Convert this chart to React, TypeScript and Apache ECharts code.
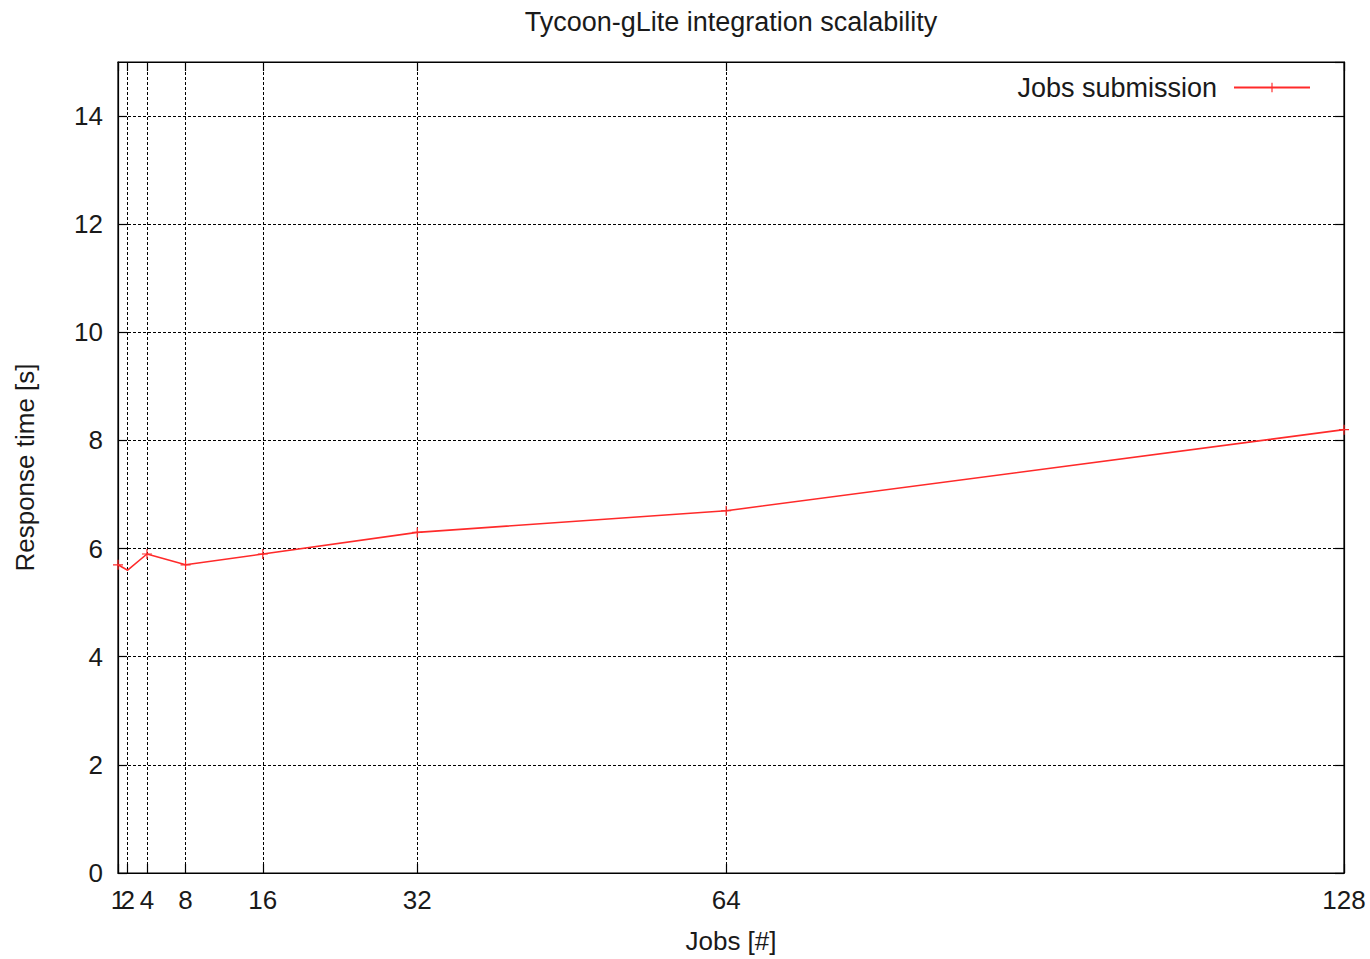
import React, { useEffect, useRef } from "react";
import * as echarts from "echarts";

const TITLE = "Tycoon-gLite integration scalability";
const X_NAME = "Jobs [#]";
const Y_NAME = "Response time [s]";
const SERIES_NAME = "Jobs submission";

const X_MIN = 1;
const X_MAX = 128;
const X_TICKS = [1, 2, 4, 8, 16, 32, 64, 128];
const X_TICKS_CROWDED = [2];
const JOBS = [1, 2, 4, 8, 16, 32, 64, 128];
const RESPONSE = [5.7, 5.6, 5.9, 5.7, 5.9, 6.3, 6.7, 8.2];

const Y_MIN = 0;
const Y_MAX = 15;
const Y_INTERVAL = 2;

const FONT = "'Liberation Sans', Arial, sans-serif";
const FS = 26;
const FS_BIG = 27;
const TEXT_COLOR = "#1a1a1a";
const RED = "#ff2a2a";

export default function App() {
  const ref = useRef<HTMLDivElement>(null);
  useEffect(() => {
    if (!ref.current) return;
    const chart = echarts.init(ref.current, null, { renderer: "svg" });
    const categories: string[] = [];
    for (let v = X_MIN; v <= X_MAX; v++) categories.push(String(v));
    const isTick = (idx: number) => X_TICKS.indexOf(idx + X_MIN) >= 0;
    const isCrowded = (idx: number) => X_TICKS_CROWDED.indexOf(idx + X_MIN) >= 0;
    const plus = "path://M4.4,0 h1.2 v4.4 h4.4 v1.2 h-4.4 v4.4 h-1.2 v-4.4 h-4.4 v-1.2 h4.4 z";
    const gridLine = { show: true, interval: (i: number) => isTick(i), lineStyle: { color: "#000", width: 1, type: [3, 2] as any } };
    const labelStyle = { fontFamily: FONT, fontSize: FS, color: TEXT_COLOR };
    chart.setOption({
      animation: false,
      backgroundColor: "#fff",
      textStyle: { fontFamily: FONT },
      title: {
        text: TITLE,
        left: 731,
        textAlign: "center",
        top: 8,
        padding: 0,
        textStyle: { fontFamily: FONT, fontSize: FS_BIG, fontWeight: "normal", color: TEXT_COLOR },
      },
      legend: {
        right: 54,
        top: 69,
        align: "right",
        itemWidth: 76,
        itemHeight: 12,
        itemGap: 10,
        textStyle: { fontFamily: FONT, fontSize: FS_BIG, color: TEXT_COLOR, padding: [0, 12, 0, 0] },
        data: [{ name: SERIES_NAME }],
      },
      grid: {
        left: 118,
        right: 26,
        top: 62,
        bottom: 86,
        show: true,
        borderColor: "#000",
        borderWidth: 1.2,
        backgroundColor: "transparent",
      },
      xAxis: [
        {
          type: "category",
          data: categories,
          boundaryGap: false,
          name: X_NAME,
          nameLocation: "middle",
          nameGap: 55,
          nameTextStyle: labelStyle,
          axisLine: { show: true, lineStyle: { color: "#000", width: 1.2 } },
          axisTick: { show: true, inside: true, length: 9, interval: (i: number) => isTick(i), lineStyle: { color: "#000", width: 1.2 } },
          axisLabel: {
            interval: (i: number) => isTick(i) && !isCrowded(i),
            showMinLabel: true,
            showMaxLabel: true,
            hideOverlap: false,
            margin: 14,
            ...labelStyle,
          },
          splitLine: gridLine,
        },
        {
          type: "category",
          data: categories,
          boundaryGap: false,
          position: "bottom",
          axisLine: { show: false },
          axisTick: { show: false },
          axisLabel: {
            interval: (i: number) => isCrowded(i),
            showMinLabel: false,
            showMaxLabel: false,
            margin: 14,
            ...labelStyle,
          },
          splitLine: { show: false },
        },
        {
          type: "category",
          data: categories,
          boundaryGap: false,
          position: "top",
          axisLine: { show: true, lineStyle: { color: "#000", width: 1.2 } },
          axisTick: { show: true, inside: true, length: 9, interval: (i: number) => isTick(i), lineStyle: { color: "#000", width: 1.2 } },
          axisLabel: { show: false },
          splitLine: { show: false },
        },
      ],
      yAxis: [
        {
          type: "value",
          min: Y_MIN,
          max: Y_MAX,
          interval: Y_INTERVAL,
          name: Y_NAME,
          nameLocation: "middle",
          nameGap: 80,
          nameTextStyle: labelStyle,
          axisLine: { show: true, lineStyle: { color: "#000", width: 1.2 } },
          axisTick: { show: true, inside: true, length: 9, lineStyle: { color: "#000", width: 1.2 } },
          axisLabel: { margin: 15, ...labelStyle, showMaxLabel: false },
          splitLine: { show: true, lineStyle: { color: "#000", width: 1, type: [3, 2] as any } },
        },
        {
          type: "value",
          min: Y_MIN,
          max: Y_MAX,
          interval: Y_INTERVAL,
          position: "right",
          axisLine: { show: true, lineStyle: { color: "#000", width: 1.2 } },
          axisTick: { show: true, inside: true, length: 9, lineStyle: { color: "#000", width: 1.2 } },
          axisLabel: { show: false },
          splitLine: { show: false },
        },
      ],
      series: [
        {
          name: SERIES_NAME,
          type: "line",
          xAxisIndex: 0,
          yAxisIndex: 0,
          data: JOBS.map((x, i) => [String(x), RESPONSE[i]]),
          symbol: plus,
          symbolSize: 10,
          showSymbol: true,
          itemStyle: { color: RED },
          lineStyle: { color: RED, width: 1.6 },
          z: 5,
        },
      ],
    });
    return () => chart.dispose();
  }, []);
  return <div ref={ref} style={{ position: "fixed", left: 0, top: 0, width: 1370, height: 959 }} />;
}
